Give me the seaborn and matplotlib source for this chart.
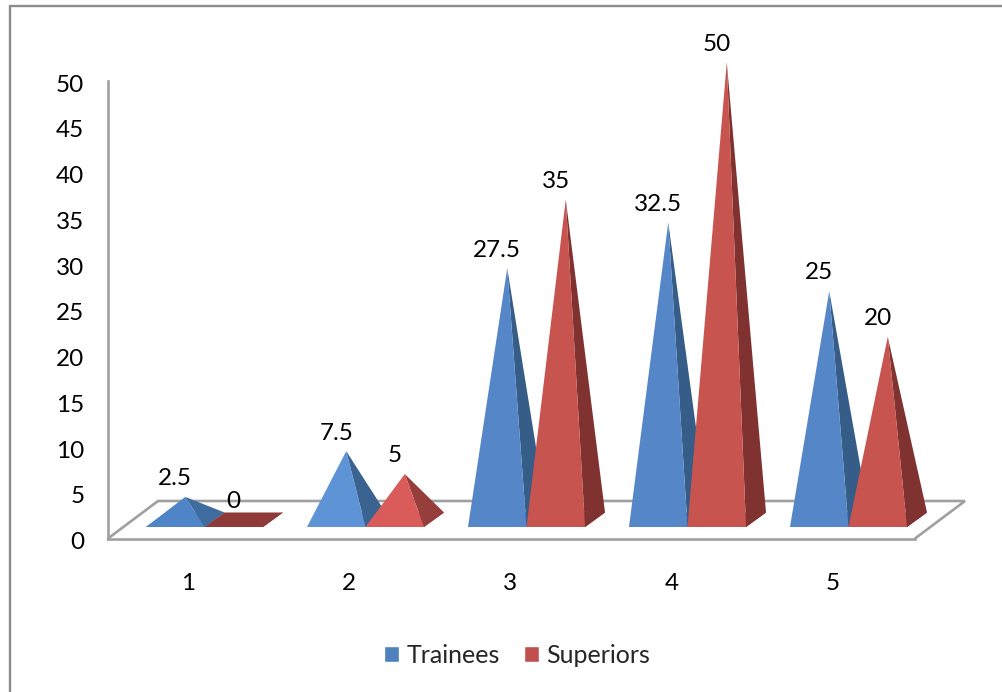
import matplotlib
matplotlib.use("Agg")
import matplotlib.pyplot as plt
from matplotlib.lines import Line2D
from matplotlib.patches import Polygon
from matplotlib.transforms import ScaledTranslation
import pandas as pd
import seaborn as sns

# Survey responses per rating
categories = ["1", "2", "3", "4", "5"]
trainees = [2.5, 7.5, 27.5, 32.5, 25]
superiors = [0, 5, 35, 50, 20]
series_names = ["Trainees", "Superiors"]

palette = {"Trainees": "#4F81BD", "Superiors": "#C0504D"}
# Face colours per category: (front, side) for each series
trainee_faces = [("#4F85C6", "#3F6C9E"), ("#5E94D6", "#3B6390"), ("#5587C8", "#365C88"),
                 ("#5587C8", "#365C88"), ("#5587C8", "#365C88")]
superior_faces = [("#8F3A38", "#8F3A38"), ("#D95C5B", "#963E3B"), ("#C8544F", "#7F3230"),
                  ("#C8544F", "#7F3230"), ("#C8544F", "#7F3230")]

W, H = 1002, 692
LEFT_PX, RIGHT_PX, TOP_PX, BASE_PX = 108, 915, 81, 538.5
GREY = "#A0A0A0"
FONT_SIZE = 17.5

sns.set_theme(style="white", font="Lato")
fig = plt.figure(figsize=(W / 100, H / 100), dpi=100, facecolor="white")
ax = fig.add_axes([LEFT_PX / W, 1 - BASE_PX / H, (RIGHT_PX - LEFT_PX) / W, (BASE_PX - TOP_PX) / H])

table = pd.DataFrame({
    "category": categories * 2,
    "value": trainees + superiors,
    "series": [series_names[0]] * 5 + [series_names[1]] * 5,
})
sns.barplot(data=table, x="category", y="value", hue="series", hue_order=series_names,
            palette=palette, width=0.727, gap=0, errorbar=None, ax=ax, saturation=1)

ax.set_xlim(-0.5994, 4.413)
ax.set_ylim(0, 50)
ax.set_xlabel("")
ax.set_ylabel("")

# Pseudo-3D geometry, expressed in data units
x_per_px = (ax.get_xlim()[1] - ax.get_xlim()[0]) / (RIGHT_PX - LEFT_PX)
y_per_px = 50 / (BASE_PX - TOP_PX)
depth_x, depth_y = 20 * x_per_px, 14.5 * y_per_px
front_lift = 11.5 * y_per_px
floor_dx, floor_dy = 50 * x_per_px, 37.5 * y_per_px

# Floor of the plot
x0, x1 = ax.get_xlim()
ax.plot([x0, x0 + floor_dx, x1 + floor_dx, x1], [0, floor_dy, floor_dy, 0],
        color=GREY, lw=1.9, clip_on=False, zorder=1, solid_joinstyle="miter")

# Each hidden bar provides the footprint and height of one pyramid
for container, faces in zip(ax.containers, [trainee_faces, superior_faces]):
    for bar, (front, side) in zip(container, faces):
        bar.set_visible(False)
        left, w, value = bar.get_x(), bar.get_width(), bar.get_height()
        right = left + w
        apex = (left + w / 2 + depth_x / 2, value + front_lift + depth_y / 2)
        base = [(left, front_lift), (right, front_lift),
                (right + depth_x, front_lift + depth_y), (left + depth_x, front_lift + depth_y)]
        ax.add_patch(Polygon(base, closed=True, fc=side, ec="none", clip_on=False, zorder=2))
        ax.add_patch(Polygon([(right, front_lift), (right + depth_x, front_lift + depth_y), apex],
                             closed=True, fc=side, ec="none", clip_on=False, zorder=2))
        ax.add_patch(Polygon([(left, front_lift), (right, front_lift), apex],
                             closed=True, fc=front, ec="none", clip_on=False, zorder=2))
        ax.text(left + w / 2, apex[1] + 18 * y_per_px, f"{value:g}", ha="center", va="center",
                fontsize=FONT_SIZE, color="black", zorder=3, clip_on=False)

# Axes
sns.despine(ax=ax, top=True, right=True)
for side_name in ("left", "bottom"):
    ax.spines[side_name].set_color(GREY)
    ax.spines[side_name].set_linewidth(1.9)
ax.set_yticks(range(0, 51, 5))
ax.set_xticks([i - 0.1 for i in range(len(categories))], categories)
ax.tick_params(axis="both", length=0, labelsize=FONT_SIZE, labelcolor="black")
ax.tick_params(axis="y", pad=17)
ax.tick_params(axis="x", pad=25)
nudge_down = ScaledTranslation(0, -1.5 / 72, fig.dpi_scale_trans)
for tick_label in ax.get_yticklabels():
    tick_label.set_transform(tick_label.get_transform() + nudge_down)

# Legend along the bottom
handles, labels = ax.get_legend_handles_labels()
ax.legend(handles, labels, ncol=2, frameon=False, fontsize=18, loc="center",
          bbox_to_anchor=((517 - LEFT_PX) / (RIGHT_PX - LEFT_PX), -(655.5 - BASE_PX) / (BASE_PX - TOP_PX)),
          handlelength=0.6, handleheight=0.6, handletextpad=0.3, columnspacing=0.95)

# Chart frame, open on the right and at the bottom
frame_color = "#8C8C8C"
fig.add_artist(Line2D([9.5 / W, 9.5 / W, 1], [0, 1 - 5.5 / H, 1 - 5.5 / H], color=frame_color, lw=1.7,
                      solid_joinstyle="miter"))

fig.savefig("out.png", dpi=100)
